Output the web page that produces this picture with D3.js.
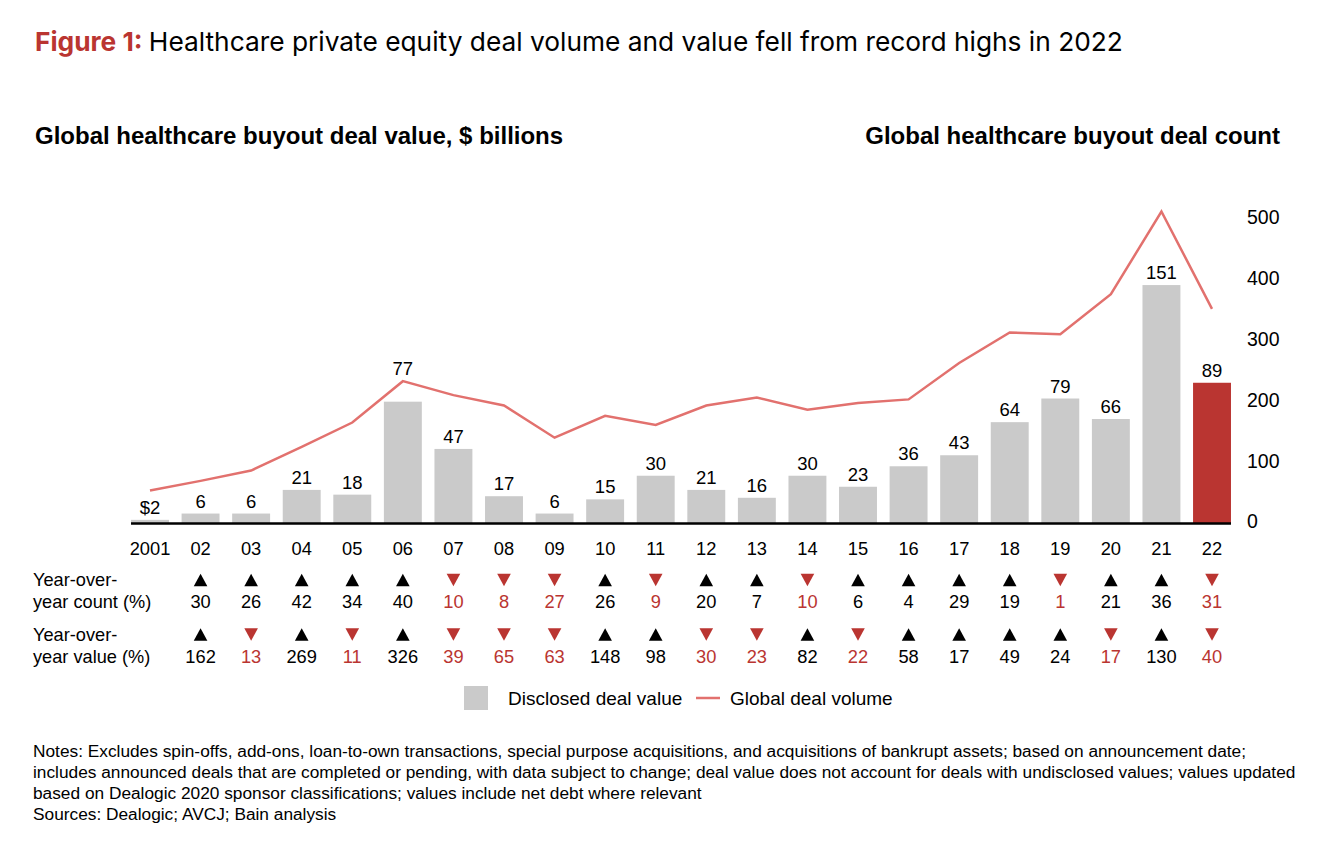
<!DOCTYPE html>
<html><head><meta charset="utf-8">
<script src="https://cdn.jsdelivr.net/npm/d3@7"></script>
<style>
body{margin:0;background:#fff}
svg{display:block}
text{font-family:"Liberation Sans",Arial,Helvetica,sans-serif;fill:#000}
</style>
</head><body>
<svg id="c" width="1318" height="846"></svg>
<script>
const years = ["2001","02","03","04","05","06","07","08","09","10","11","12","13","14","15","16","17","18","19","20","21","22"];
const dealValue = [2,6,6,21,18,77,47,17,6,15,30,21,16,30,23,36,43,64,79,66,151,89];
const dealCount = [50,66,83,122,162,230,207,190,137,173,158,190,203,183,194,200,260,310,307,373,509,349];
const yoyCount = [null,30,26,42,34,40,-10,-8,-27,26,-9,20,7,-10,6,4,29,19,-1,21,36,-31];
const yoyValue = [null,162,-13,269,-11,326,-39,-65,-63,148,98,-30,-23,82,-22,58,17,49,24,-17,130,-40];
const countTicks = [0,100,200,300,400,500];
const notes = [
  "Notes: Excludes spin-offs, add-ons, loan-to-own transactions, special purpose acquisitions, and acquisitions of bankrupt assets; based on announcement date;",
  "includes announced deals that are completed or pending, with data subject to change; deal value does not account for deals with undisclosed values; values updated",
  "based on Dealogic 2020 sponsor classifications; values include net debt where relevant",
  "Sources: Dealogic; AVCJ; Bain analysis"
];

const RED = "#BA3531", GRAY = "#CACACA", LINE = "#E2716E";
const svg = d3.select("#c");

// Title
const t = svg.append("text").attr("x", 35).attr("y", 51)
  .style("font-family", "Inter, Roboto, sans-serif").style("font-size", "26.3px");
t.append("tspan").text("Figure 1: ").style("fill", RED).style("font-weight", "700");
t.append("tspan").text("Healthcare private equity deal volume and value fell from record highs in 2022").style("fill", "#000");

// Headings
svg.append("text").attr("x", 35).attr("y", 144).style("font-size", "24px").style("font-weight", "700")
  .text("Global healthcare buyout deal value, $ billions");
svg.append("text").attr("x", 1280).attr("y", 144).attr("text-anchor", "end").style("font-size", "24px").style("font-weight", "700")
  .text("Global healthcare buyout deal count");

// Scales
const x = d3.scaleBand().domain(years).range([124.7, 1237.3]).paddingInner(0.25).paddingOuter(0.125);
const yV = d3.scaleLinear().domain([0, 194.2]).range([523, 217]);
const yC = d3.scaleLinear().domain([0, 500]).range([521, 217]);

// Bars
svg.append("g").selectAll("rect").data(dealValue).join("rect")
  .attr("x", (d, i) => x(years[i])).attr("width", x.bandwidth())
  .attr("y", d => yV(d)).attr("height", d => yV(0) - yV(d))
  .attr("fill", (d, i) => i === years.length - 1 ? RED : GRAY);

// Baseline
svg.append("line").attr("x1", x(years[0])).attr("x2", x(years[years.length - 1]) + x.bandwidth())
  .attr("y1", 523.5).attr("y2", 523.5).attr("stroke", "#000").attr("stroke-width", 2.5);

// Line
const line = d3.line().x((d, i) => x(years[i]) + x.bandwidth() / 2).y(d => yC(d));
svg.append("path").datum(dealCount).attr("d", line).attr("fill", "none")
  .attr("stroke", LINE).attr("stroke-width", 2.5).attr("stroke-linejoin", "miter");

// Bar labels (lifted above the line only where the line would cross the label)
function labelY(d, i) {
  const ly = yV(d) - 6, lineY = yC(dealCount[i]);
  return (lineY > ly - 22 && lineY < ly + 4) ? lineY - 6 : ly;
}
svg.append("g").selectAll("text").data(dealValue).join("text")
  .attr("x", (d, i) => x(years[i]) + x.bandwidth() / 2)
  .attr("y", (d, i) => labelY(d, i))
  .attr("text-anchor", "middle").style("font-size", "18.5px")
  .text((d, i) => i === 0 ? "$" + d : d);

// Right axis
const ax = svg.append("g").attr("transform", "translate(1247,0)")
  .call(d3.axisRight(yC).tickValues(countTicks).tickSize(0).tickPadding(0));
ax.select(".domain").remove();
ax.selectAll("text").style("font-size", "19.5px").attr("dy", "0.35em")
  .style("font-family", "'Liberation Sans',Arial,sans-serif").attr("fill", "#000");

// Year labels
svg.append("g").selectAll("text").data(years).join("text")
  .attr("x", d => x(d) + x.bandwidth() / 2).attr("y", 549).attr("dy", "0.35em")
  .attr("text-anchor", "middle").style("font-size", "18.3px").text(d => d);

// YoY rows
function yoyRow(data, yTri, yNum, label2) {
  const g = svg.append("g");
  g.append("text").attr("x", 33).attr("y", yTri).attr("dy", "0.35em").style("font-size", "18.2px").text("Year-over-");
  g.append("text").attr("x", 33).attr("y", yNum).attr("dy", "0.35em").style("font-size", "18.2px").text(label2);
  const pts = data.map((d, i) => ({d, i})).filter(o => o.d !== null);
  g.selectAll("path").data(pts).join("path")
    .attr("d", o => {
      const cx = x(years[o.i]) + x.bandwidth() / 2, w = 6.8, h = 12.5;
      return o.d >= 0
        ? `M${cx - w},${yTri + h / 2}L${cx + w},${yTri + h / 2}L${cx},${yTri - h / 2}Z`
        : `M${cx - w},${yTri - h / 2}L${cx + w},${yTri - h / 2}L${cx},${yTri + h / 2}Z`;
    })
    .attr("fill", o => o.d >= 0 ? "#000" : RED);
  g.selectAll("text.num").data(pts).join("text").attr("class", "num")
    .attr("x", o => x(years[o.i]) + x.bandwidth() / 2).attr("y", yNum).attr("dy", "0.35em")
    .attr("text-anchor", "middle").style("font-size", "18.3px")
    .style("fill", o => o.d >= 0 ? "#000" : RED)
    .text(o => Math.abs(o.d));
}
yoyRow(yoyCount, 580, 602, "year count (%)");
yoyRow(yoyValue, 634.5, 657, "year value (%)");

// Legend
const lg = svg.append("g");
lg.append("rect").attr("x", 464).attr("y", 686).attr("width", 24).attr("height", 24).attr("fill", GRAY);
lg.append("text").attr("x", 508).attr("y", 698).attr("dy", "0.35em").style("font-size", "19px").text("Disclosed deal value");
lg.append("line").attr("x1", 696).attr("x2", 720).attr("y1", 698).attr("y2", 698).attr("stroke", LINE).attr("stroke-width", 2.5);
lg.append("text").attr("x", 730).attr("y", 698).attr("dy", "0.35em").style("font-size", "19px").text("Global deal volume");

// Notes
svg.append("g").selectAll("text").data(notes).join("text")
  .attr("x", 33).attr("y", (d, i) => 751 + i * 21).attr("dy", "0.35em")
  .style("font-size", "17.3px").text(d => d);
</script>
</body></html>
